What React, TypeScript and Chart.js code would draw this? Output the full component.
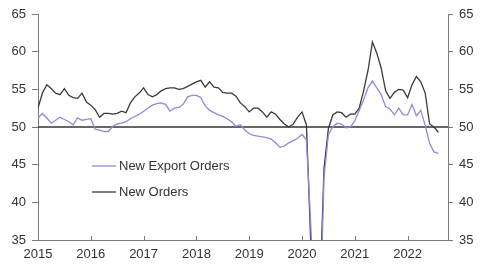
import React, { useEffect, useRef } from 'react';
import { Chart, registerables } from 'chart.js';

Chart.register(...registerables);

const startYear = 2015;
const endYear = 2022.765;
const yearTicks = [2015, 2016, 2017, 2018, 2019, 2020, 2021, 2022];
const valueTicks = [35, 40, 45, 50, 55, 60, 65];
const referenceLevel = 50;
const seriesLabels = ['New Export Orders', 'New Orders'];

// Monthly readings, Jan 2015 onward
const newExportOrders = [
  51.2, 51.8, 51.2, 50.5, 50.9, 51.3, 51.0, 50.7, 50.3, 51.2, 50.9, 51.0,
  51.1, 49.7, 49.6, 49.4, 49.4, 50.1, 50.4, 50.5, 50.7, 51.1, 51.4, 51.7,
  52.1, 52.5, 52.9, 53.1, 53.2, 53.0, 52.1, 52.5, 52.6, 53.0, 54.0, 54.2,
  54.2, 53.9, 52.8, 52.2, 51.9, 51.6, 51.4, 51.1, 50.7, 50.1, 50.3, 49.6,
  49.1, 48.9, 48.8, 48.7, 48.6, 48.4, 47.9, 47.3, 47.5, 47.9, 48.2, 48.5,
  49.0, 48.3, 37.0, 22.0, 22.0, 43.3, 49.0, 50.0, 50.5, 50.4, 49.9, 50.0,
  50.8, 52.2, 53.6, 55.2, 56.1, 55.2, 54.3, 52.7, 52.4, 51.6, 52.5, 51.6,
  51.6, 53.0, 51.5, 52.2, 50.2, 47.8, 46.7, 46.5,
];

const newOrders = [
  52.5, 54.5, 55.6, 55.1, 54.5, 54.3, 55.1, 54.2, 53.9, 53.8, 54.5, 53.3,
  52.9, 52.3, 51.3, 51.8, 51.8, 51.7, 51.8, 52.1, 51.9, 53.2, 54.0, 54.5,
  55.2, 54.3, 54.0, 54.3, 54.8, 55.1, 55.2, 55.2, 55.0, 55.1, 55.4, 55.7,
  56.0, 56.2, 55.3, 56.0, 55.3, 55.2, 54.6, 54.5, 54.5, 54.1, 53.2, 52.7,
  52.0, 52.5, 52.5, 52.0, 51.3, 52.0, 51.7, 51.0, 50.4, 50.0, 50.4, 51.3,
  52.0, 50.3, 34.5, 25.0, 26.7, 44.5, 49.8, 51.6, 52.0, 51.9, 51.3, 51.7,
  51.7, 52.5, 54.8, 57.5, 61.3, 59.8, 57.8, 54.8, 53.8, 54.6, 55.0, 54.9,
  53.9, 55.6, 56.7, 56.0, 54.5, 50.4, 50.0, 49.3,
];

const FONT = '"Liberation Sans", Arial, Helvetica, sans-serif';
const TEXT = '#333333';
const AXIS = '#7a7a7a';
const EXPORT_COLOR = '#8b8bdc';
const ORDERS_COLOR = '#3a3a3a';

const toPoints = (vals: number[]) => vals.map((v, i) => ({ x: startYear + i / 12, y: v }));

const refLinePlugin = {
  id: 'refLine',
  beforeDatasetsDraw(chart: any) {
    const { ctx, chartArea, scales } = chart;
    const y = scales.y.getPixelForValue(referenceLevel);
    ctx.save();
    ctx.strokeStyle = '#333333';
    ctx.lineWidth = 1.4;
    ctx.beginPath();
    ctx.moveTo(chartArea.left, y);
    ctx.lineTo(chartArea.right, y);
    ctx.stroke();
    ctx.restore();
  },
};

const innerXTicksPlugin = {
  id: 'innerXTicks',
  afterDraw(chart: any) {
    const { ctx, chartArea, scales } = chart;
    ctx.save();
    ctx.strokeStyle = AXIS;
    ctx.lineWidth = 1;
    yearTicks.forEach((yr) => {
      const x = Math.round(scales.x.getPixelForValue(yr)) + 0.5;
      ctx.beginPath();
      ctx.moveTo(x, chartArea.bottom);
      ctx.lineTo(x, chartArea.bottom - 4);
      ctx.stroke();
    });
    ctx.restore();
  },
};

const insideLegendPlugin = {
  id: 'insideLegend',
  afterDraw(chart: any) {
    const { ctx, chartArea } = chart;
    ctx.save();
    ctx.font = `13px ${FONT}`;
    ctx.textBaseline = 'middle';
    ctx.textAlign = 'left';
    chart.data.datasets.forEach((ds: any, i: number) => {
      const y = chartArea.top + 152 + i * 26;
      const x0 = chartArea.left + 54;
      ctx.strokeStyle = ds.borderColor;
      ctx.lineWidth = 1.3;
      ctx.beginPath();
      ctx.moveTo(x0, y);
      ctx.lineTo(x0 + 24, y);
      ctx.stroke();
      ctx.fillStyle = TEXT;
      ctx.fillText(ds.label, x0 + 27, y + 0.5);
    });
    ctx.restore();
  },
};

export default function App() {
  const ref = useRef<HTMLCanvasElement | null>(null);

  useEffect(() => {
    document.body.style.margin = '0';
    const canvas = ref.current;
    if (!canvas) return;
    const yScaleBase = {
      type: 'linear' as const,
      min: 35,
      max: 65,
      afterBuildTicks: (scale: any) => {
        scale.ticks = valueTicks.map((v) => ({ value: v }));
      },
      grid: { display: true, drawOnChartArea: false, drawTicks: true, tickLength: 6, color: AXIS },
      border: { display: true, color: AXIS, width: 1 },
      ticks: { color: TEXT, font: { family: FONT, size: 13 }, padding: 6 },
    };
    const chart = new Chart(canvas, {
      type: 'line',
      data: {
        datasets: [
          {
            label: seriesLabels[0],
            data: toPoints(newExportOrders),
            borderColor: EXPORT_COLOR,
            borderWidth: 1.3,
            pointRadius: 0,
            tension: 0,
            fill: false,
          },
          {
            label: seriesLabels[1],
            data: toPoints(newOrders),
            borderColor: ORDERS_COLOR,
            borderWidth: 1.3,
            pointRadius: 0,
            tension: 0,
            fill: false,
          },
        ],
      },
      options: {
        responsive: false,
        animation: false,
        layout: { padding: { top: 14, left: 0, right: 0, bottom: 0 } },
        plugins: { legend: { display: false }, tooltip: { enabled: false }, title: { display: false } },
        scales: {
          x: {
            type: 'linear',
            min: startYear,
            max: endYear,
            afterBuildTicks: (scale: any) => {
              scale.ticks = yearTicks.map((v) => ({ value: v }));
            },
            afterFit: (scale: any) => {
              scale.height = 26;
            },
            grid: { display: false, drawTicks: false },
            border: { display: true, color: AXIS, width: 1 },
            ticks: {
              color: TEXT,
              font: { family: FONT, size: 13 },
              padding: 7,
              maxRotation: 0,
              autoSkip: false,
              callback: (v: any) => String(v),
            },
          },
          y: {
            ...yScaleBase,
            position: 'left',
            afterFit: (scale: any) => {
              scale.width = 38;
            },
          },
          y2: {
            ...yScaleBase,
            position: 'right',
            display: true,
            grid: { ...yScaleBase.grid, tickLength: 5 },
            afterFit: (scale: any) => {
              scale.width = 32;
            },
          },
        },
      } as any,
      plugins: [refLinePlugin, innerXTicksPlugin, insideLegendPlugin],
    });
    return () => chart.destroy();
  }, []);

  return (
    <div style={{ position: 'absolute', left: 0, top: 0, width: 480, height: 266, background: '#fff' }}>
      <canvas ref={ref} width={480} height={266} />
    </div>
  );
}
